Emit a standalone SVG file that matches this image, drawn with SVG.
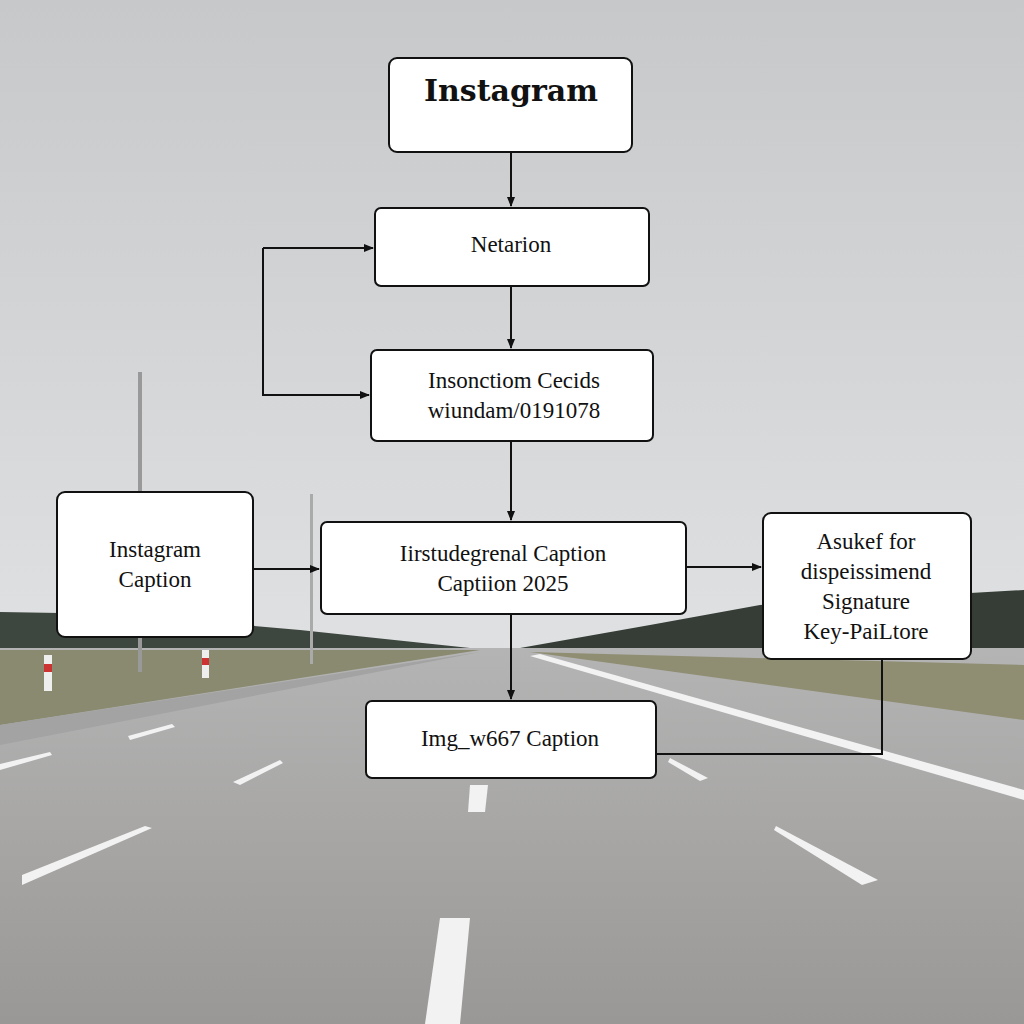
<svg xmlns="http://www.w3.org/2000/svg" width="1024" height="1024" viewBox="0 0 1024 1024">
<defs>
<linearGradient id="sky" x1="0" y1="0" x2="0" y2="1"><stop offset="0" stop-color="#c6c8ca"/><stop offset="1" stop-color="#dfe1e2"/></linearGradient>
<linearGradient id="road" x1="0" y1="0" x2="0" y2="1"><stop offset="0" stop-color="#b4b4b4"/><stop offset="1" stop-color="#9a9896"/></linearGradient>
<marker id="ah" markerWidth="10" markerHeight="8" refX="9" refY="4" orient="auto" markerUnits="userSpaceOnUse"><path d="M0,0 L10,4 L0,8 Z" fill="#111"/></marker>
</defs>
<style>
.n{fill:#fff;stroke:#111;stroke-width:2}
.t{font-family:"Liberation Serif",serif;font-size:23px;fill:#111;text-anchor:middle}
.c{fill:none;stroke:#111;stroke-width:2}
.lane{fill:#f2f2f2}
</style>
<g id="background">
<rect width="1024" height="660" fill="url(#sky)"/>
<path d="M0,612 L120,614 L300,630 L470,648 L0,650 Z" fill="#3e4640"/>
<path d="M520,648 L650,625 L760,605 L1024,590 L1024,670 L520,655 Z" fill="#353d36"/>
<rect y="648" width="1024" height="376" fill="url(#road)"/>
<path d="M0,650 L480,650 L0,725 Z" fill="#8a8a70"/>
<path d="M530,652 L1024,665 L1024,720 Z" fill="#8f8d72"/>
<path d="M0,725 L480,652 L0,745 Z" fill="#a3a3a3"/>
<path d="M540,654 L1024,790 L1024,800 L530,656 Z" class="lane"/>
<path d="M22,885 L152,828 L145,826 L22,875 Z" class="lane"/>
<path d="M776,826 L878,880 L862,885 L774,830 Z" class="lane"/>
<path d="M440,918 L470,918 L460,1024 L425,1024 Z" class="lane"/>
<path d="M470,785 L488,785 L485,812 L468,812 Z" class="lane"/>
<path d="M233,782 L280,760 L283,763 L240,785 Z" class="lane"/>
<path d="M670,758 L708,778 L700,781 L668,762 Z" class="lane"/>
<path d="M0,770 L52,755 L50,752 L0,764 Z" class="lane"/>
<path d="M130,740 L175,727 L172,724 L128,736 Z" class="lane"/>
<rect x="138" y="372" width="4" height="300" fill="#999"/>
<rect x="310" y="494" width="3" height="170" fill="#aaa"/>
<rect x="44" y="655" width="8" height="36" fill="#eee"/><rect x="44" y="664" width="8" height="8" fill="#c33"/>
<rect x="202" y="650" width="7" height="28" fill="#eee"/><rect x="202" y="658" width="7" height="7" fill="#c33"/>
</g>
<g id="connectors">
<line class="c" x1="511" y1="152" x2="511" y2="206" marker-end="url(#ah)"/>
<line class="c" x1="511" y1="286" x2="511" y2="348" marker-end="url(#ah)"/>
<path class="c" d="M263,248 L373,248" marker-end="url(#ah)"/>
<path class="c" d="M263,248 L263,395 L369,395" marker-end="url(#ah)"/>
<line class="c" x1="511" y1="441" x2="511" y2="520" marker-end="url(#ah)"/>
<line class="c" x1="253" y1="569" x2="319" y2="569" marker-end="url(#ah)"/>
<line class="c" x1="686" y1="567" x2="761" y2="567" marker-end="url(#ah)"/>
<line class="c" x1="511" y1="614" x2="511" y2="699" marker-end="url(#ah)"/>
<path class="c" d="M882,659 L882,754 L656,754"/>
</g>
<g id="n-instagram"><rect class="n" x="389" y="58" width="243" height="94" rx="8"/><text x="511" y="101" style="font-family:'DejaVu Serif',serif;font-size:30px;font-weight:bold;text-anchor:middle;fill:#111">Instagram</text></g>
<g id="n-netarion"><rect class="n" x="375" y="208" width="274" height="78" rx="6"/><text class="t" x="511" y="252">Netarion</text></g>
<g id="n-insonctiom"><rect class="n" x="371" y="350" width="282" height="91" rx="6"/><text class="t" x="514" y="388">Insonctiom Cecids</text><text class="t" x="514" y="418">wiundam/0191078</text></g>
<g id="n-caption-left"><rect class="n" x="57" y="492" width="196" height="145" rx="8"/><text class="t" x="155" y="557">Instagram</text><text class="t" x="155" y="587">Caption</text></g>
<g id="n-center"><rect class="n" x="321" y="522" width="365" height="92" rx="6"/><text class="t" x="503" y="561">Iirstudegrenal Caption</text><text class="t" x="503" y="591">Captiion 2025</text></g>
<g id="n-right"><rect class="n" x="763" y="513" width="208" height="146" rx="8"/><text class="t" x="866" y="549">Asukef for</text><text class="t" x="866" y="579">dispeissimend</text><text class="t" x="866" y="609">Signature</text><text class="t" x="866" y="639">Key-PaiLtore</text></g>
<g id="n-img"><rect class="n" x="366" y="701" width="290" height="77" rx="6"/><text class="t" x="510" y="746">Img_w667 Caption</text></g>
</svg>
